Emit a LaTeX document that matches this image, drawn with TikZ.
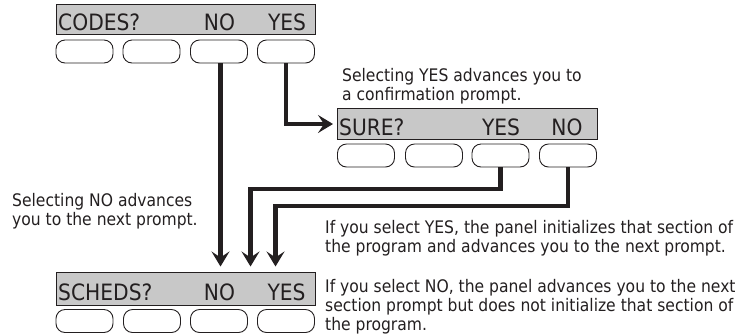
\documentclass[tikz,border=0pt]{standalone}
\usepackage{fontspec}
\setmainfont{DejaVu Sans Condensed}
\usetikzlibrary{arrows.meta}
\definecolor{ink}{HTML}{231F20}
\definecolor{lcd}{HTML}{C8C8C8}
\begin{document}
\begin{tikzpicture}[x=1pt,y=-1pt,
  lcdbox/.style={draw=ink, fill=lcd, line width=1pt, minimum width=259pt, inner sep=0pt, anchor=north west},
  keybtn/.style={draw=ink, line width=0.9pt, rounded corners=9pt, minimum width=57pt, minimum height=23pt, inner sep=0pt},
  lcdtxt/.style={font=\fontsize{22.5}{22.5}\selectfont, text=ink, inner sep=0pt},
  note/.style={font=\fontsize{17.3}{19}\selectfont, text=ink, align=left, anchor=north west, inner sep=0pt},
  wire/.style={draw=ink, line width=4.5pt},
  flow/.style={wire, -{Stealth[length=15pt,width=18pt,inset=6pt]}},
]
\useasboundingbox (0,0) rectangle (743,333);

% top display
\node[lcdbox, minimum height=30pt] (d1) at (56,4) {};
\node[lcdtxt, anchor=base west] (t1) at (58,30) {CODES?};
\node[lcdtxt, anchor=base] (t1no) at (219.5,30) {NO};
\node[lcdtxt, anchor=base] (t1yes) at (287,30) {YES};
\node[keybtn] (c1) at (84.5,51.5) {};
\node[keybtn] (c2) at (151.5,51.5) {};
\node[keybtn] (c3) at (219,51.5) {};
\node[keybtn] (c4) at (286,51.5) {};

% confirm display
\node[lcdbox, minimum height=31pt, minimum width=260pt] (d2) at (337,108) {};
\node[lcdtxt, anchor=base west] (t2) at (339,135) {SURE?};
\node[lcdtxt, anchor=base] (t2yes) at (501,135) {YES};
\node[lcdtxt, anchor=base] (t2no) at (567,135) {NO};
\node[keybtn] (s1) at (366,155.5) {};
\node[keybtn] (s2) at (434,155.5) {};
\node[keybtn] (s3) at (500.5,155.5) {};
\node[keybtn] (s4) at (568,155.5) {};

% bottom display
\node[lcdbox, minimum height=33pt] (d3) at (56,272) {};
\node[lcdtxt, anchor=base west] (t3) at (58,300) {SCHEDS?};
\node[lcdtxt, anchor=base] (t3no) at (219.5,300) {NO};
\node[lcdtxt, anchor=base] (t3yes) at (286.5,300) {YES};
\node[keybtn] (b1) at (84.5,321) {};
\node[keybtn] (b2) at (152,321) {};
\node[keybtn] (b3) at (219,321) {};
\node[keybtn] (b4) at (286,321) {};

% arrow end points
\coordinate (a1) at (220.5,266.5);
\coordinate (a2) at (250.5,266.5);
\coordinate (a3) at (275.5,266.5);

% connectors
\draw[flow] (c3.south -| a1) -- (a1);
\draw[flow] (c4.south) |- ([xshift=-4pt]d2.west);
\draw[flow] (s3.south) -- ++(0,21.5) -| (a2);
\draw[flow] (s4.south) -- ++(0,38.5) -| (a3);

% notes
\node[note] (n1) at (342,67) {\rule{0pt}{14pt}Selecting YES advances you to\\a confirmation prompt.};
\node[note] (n2) at (12,192) {\rule{0pt}{14pt}Selecting NO advances\\you to the next prompt.};
\node[note] (n3) at (325,219) {\rule{0pt}{14pt}If you select YES, the panel initializes that section of\\the program and advances you to the next prompt.};
\node[note] (n4) at (325,278) {\rule{0pt}{14pt}If you select NO, the panel advances you to the next\\section prompt but does not initialize that section of\\the program.};
\end{tikzpicture}
\end{document}
